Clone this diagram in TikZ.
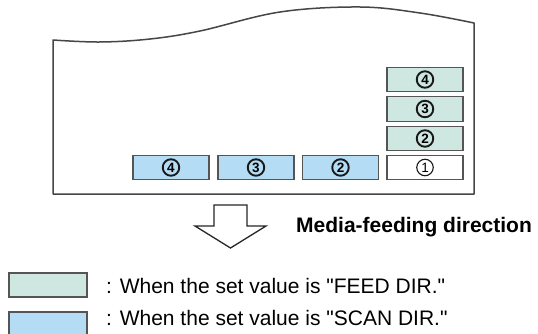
\documentclass[tikz,border=0pt]{standalone}
\usepackage{fontspec}
\setmainfont{Liberation Sans}
\definecolor{feedcol}{RGB}{206,231,224}
\definecolor{scancol}{RGB}{180,220,244}
\definecolor{boxgray}{RGB}{85,85,85}
\definecolor{sheetcol}{RGB}{70,70,70}
\begin{document}
\begin{tikzpicture}[x=1pt,y=-1pt,
  cell/.style={draw=boxgray, line width=1.1pt, minimum width=76pt, minimum height=24.5pt, inner sep=0pt},
  feed/.style={cell, fill=feedcol},
  scan/.style={cell, fill=scancol},
  plain/.style={cell, fill=white},
  numb/.style={circle, draw=black!90, line width=1.9pt, inner sep=0pt, minimum size=16.5pt, font=\fontsize{13.5}{13.5}\selectfont\bfseries},
  numa/.style={circle, draw=black!90, line width=1.1pt, inner sep=0pt, minimum size=16.5pt, font=\fontsize{13.5}{13.5}\selectfont},
  sheetline/.style={draw=sheetcol, line width=1.5pt, line join=round},
  arrowline/.style={draw=black!85, line width=1.3pt, fill=white, line join=miter},
  lbl/.style={anchor=base west, inner sep=0pt, font=\fontsize{21}{24}\selectfont}]
\clip (0,0) rectangle (538,334);
\fill[white] (0,0) rectangle (538,334);
% sheet
\draw[sheetline] plot[smooth, tension=0.6] coordinates {(53,40) (100,42) (150,39) (200,31) (280,12) (360,7) (420,13) (474,23)} -- (474,194) -- (53,194) -- cycle;
% vertical column (feed direction)
\node[feed] (v4) at (425,79.5) {};
\node[feed] (v3) at (425,109) {};
\node[feed] (v2) at (425,138.5) {};
\node[plain] (c1) at (425,167.5) {};
% horizontal row (scan direction)
\node[scan] (h2) at (340.5,167.5) {};
\node[scan] (h3) at (256,167.5) {};
\node[scan] (h4) at (171,167.5) {};
% numbers
\node[numb] (v4n) at (v4) {4};
\node[numb] (v3n) at (v3) {3};
\node[numb] (v2n) at (v2) {2};
\node[numa] (c1n) at (c1) {1};
\node[numb] (h2n) at (h2) {2};
\node[numb] (h3n) at (h3) {3};
\node[numb] (h4n) at (h4) {4};
% feed arrow
\draw[arrowline] (214,205) -- (247,205) -- (247,226) -- (266,226) -- (230.5,248) -- (195,226) -- (214,226) -- cycle;
\node[lbl, font=\fontsize{21}{24}\selectfont\bfseries] (dir) at (296,232) {Media-feeding direction};
% legend
\node[feed, minimum width=78pt, minimum height=24pt] (lf) at (48,285) {};
\node[scan, minimum width=78pt, minimum height=25pt] (ls) at (48,324.5) {};
\node[lbl] (lft) at (106,293) {: When the set value is \textquotedbl FEED DIR.\textquotedbl};
\node[lbl] (lst) at (106,325) {: When the set value is \textquotedbl SCAN DIR.\textquotedbl};
\end{tikzpicture}
\end{document}
